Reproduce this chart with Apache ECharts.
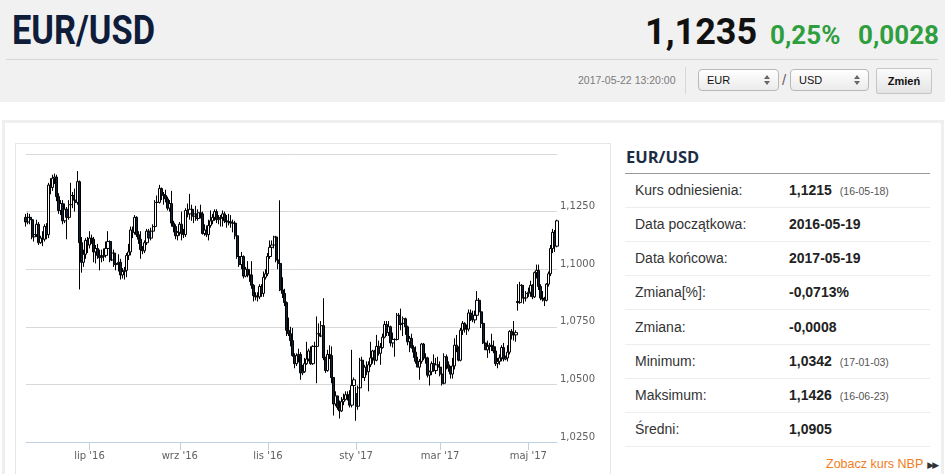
<!DOCTYPE html>
<html>
<head>
<meta charset="utf-8">
<title>EUR/USD</title>
<script src="https://cdn.jsdelivr.net/npm/echarts@6/dist/echarts.min.js"></script>
<style>
    body { margin: 0; width: 945px; height: 474px; overflow: hidden; background: #fff; position: relative; font-family: "Liberation Sans", Arial, sans-serif; }
    .abs { position: absolute; white-space: nowrap; }
    #head { left: 0; top: 0; width: 945px; height: 102px; background: #f1f1f1; }
    #title { left: 12px; top: 8px; font: 700 40px Roboto, sans-serif; color: #0f1d3a; transform: scaleX(0.86); transform-origin: left top; line-height: 46px; }
    #price { left: 645px; top: 10px; font: 700 36px Roboto, sans-serif; color: #111; line-height: 44px; }
    .chg { top: 17px; font: 700 26px Roboto, sans-serif; color: #2f9e3e; line-height: 36px; }
    #sep { left: 6px; top: 59px; width: 932px; height: 1px; background: #d6d6d6; }
    #stamp { left: 578px; top: 74px; font-size: 10.5px; color: #7a7a7a; line-height: 12px; }
    #vsep { left: 685px; top: 67px; width: 1px; height: 27px; background: #d8d8d8; }
    .sel { top: 69px; height: 20px; border: 1px solid #b8b8b8; border-radius: 4px; background: linear-gradient(#ffffff, #ebebeb); font-size: 11px; line-height: 20px; color: #111; }
    .sel span { position: absolute; left: 8px; }
    .sel i { position: absolute; right: 8px; width: 0; height: 0; border-left: 3px solid transparent; border-right: 3px solid transparent; }
    .sel i.up { top: 5px; border-bottom: 4px solid #666; }
    .sel i.dn { top: 11px; border-top: 4px solid #666; }
    #slash { left: 782px; top: 71px; font-size: 15px; color: #666; }
    #btn { left: 876px; top: 68px; width: 54px; height: 24px; border: 1px solid #c6c6c6; border-radius: 2px; background: linear-gradient(#fbfbfb, #e4e4e4); font-size: 11px; font-weight: 700; line-height: 24px; text-align: center; color: #111; }
    #outer { left: 2px; top: 120px; width: 936px; height: 400px; border: 3px solid #efefef; }
    #chartBox { left: 15px; top: 143px; width: 594px; height: 400px; border: 1px solid #e6e6e6; }
    #chart { left: 16px; top: 144px; width: 594px; height: 330px; }
    #ptitle { left: 626px; top: 146px; font: 700 16.5px "Open Sans", sans-serif; color: #1d2c45; line-height: 22px; }
    #pline { left: 625px; top: 173px; width: 305px; height: 1px; background: #999; }
    .row { left: 625px; width: 305px; height: 33px; border-bottom: 1px solid #ededed; line-height: 33px; font-size: 14px; color: #333; }
    .row .lab { position: absolute; left: 10px; }
    .row .val { position: absolute; left: 164px; font-weight: 700; color: #222; }
    .row .val small { font-weight: 400; font-size: 10.5px; color: #555; margin-left: 8px; }
    #more { left: 826px; top: 456px; font-size: 12.5px; color: #f07c21; line-height: 16px; }
    #more b { font: 9px "DejaVu Sans", sans-serif; color: #333; margin-left: 4px; letter-spacing: -2px; }
</style>
</head>
<body>
<div id="head" class="abs"></div>
<div id="title" class="abs">EUR/USD</div>
<div id="price" class="abs">1,1235</div>
<div class="abs chg" style="left:770px">0,25%</div>
<div class="abs chg" style="left:858px">0,0028</div>
<div id="sep" class="abs"></div>
<div id="stamp" class="abs">2017-05-22 13:20:00</div>
<div id="vsep" class="abs"></div>
<div class="abs sel" style="left:698px;width:79px"><span>EUR</span><i class="up"></i><i class="dn"></i></div>
<div id="slash" class="abs">/</div>
<div class="abs sel" style="left:790px;width:77px"><span>USD</span><i class="up"></i><i class="dn"></i></div>
<div id="btn" class="abs">Zmień</div>

<div id="outer" class="abs"></div>
<div id="chartBox" class="abs"></div>
<div id="chart" class="abs"></div>

<div id="ptitle" class="abs">EUR/USD</div>
<div id="pline" class="abs"></div>
<div id="rows"></div>
<div id="more" class="abs">Zobacz kurs NBP<b>▶▶</b></div>

<script>
//dni notowań: od 2016-05-19 do 2017-05-19, bez świąt
var startDate = [2016, 4, 19];
var endDate = [2017, 4, 19];
var skipDays = ['2016-12-26', '2017-01-02'];
var monthNames = ['sty', 'lut', 'mar', 'kwi', 'maj', 'cze', 'lip', 'sie', 'wrz', 'paź', 'lis', 'gru'];
var labelMonths = [0, 2, 4, 6, 8, 10];

//notowania dzienne
var openVals = [
    1.1225,1.1205,1.1225,1.1215,1.1140,1.1150,1.1195,1.1115,1.1135,1.1130,
    1.1185,1.1150,1.1365,1.1355,1.1395,1.1400,1.1315,1.1255,1.1285,1.1210,
    1.1260,1.1225,1.1280,1.1320,1.1300,1.1290,1.1380,1.1115,1.1030,1.1065,
    1.1125,1.1105,1.1135,1.1130,1.1075,1.1090,1.1060,1.1050,1.1055,1.1060,
    1.1090,1.1120,1.1040,1.1070,1.1020,1.1025,1.1030,1.0975,1.0990,1.0995,
    1.1060,1.1075,1.1170,1.1160,1.1225,1.1150,1.1130,1.1085,1.1080,1.1115,
    1.1165,1.1135,1.1165,1.1185,1.1290,1.1290,1.1350,1.1325,1.1320,1.1305,
    1.1265,1.1285,1.1200,1.1185,1.1145,1.1160,1.1195,1.1155,1.1150,1.1255,
    1.1240,1.1260,1.1230,1.1240,1.1220,1.1245,1.1240,1.1155,1.1170,1.1150,
    1.1190,1.1210,1.1225,1.1250,1.1215,1.1220,1.1225,1.1240,1.1210,1.1205,
    1.1205,1.1200,1.1200,1.1145,1.1055,1.1020,1.1055,1.0970,1.1000,1.0975,
    1.0975,1.0930,1.0885,1.0880,1.0880,1.0925,1.0895,1.0965,1.0980,1.1055,
    1.1095,1.1105,1.1140,1.1040,1.1025,1.0910,1.0895,1.0855,1.0735,1.0720,
    1.0690,1.0625,1.0590,1.0625,1.0630,1.0550,1.0555,1.0590,1.0610,1.0645,
    1.0590,1.0665,1.0665,1.0720,1.0710,1.0755,1.0615,1.0560,1.0630,1.0625,
    1.0530,1.0415,1.0450,1.0400,1.0385,1.0425,1.0435,1.0455,1.0455,1.0410,
    1.0495,1.0460,1.0405,1.0485,1.0605,1.0530,1.0575,1.0555,1.0585,1.0615,
    1.0645,1.0605,1.0665,1.0635,1.0660,1.0705,1.0760,1.0725,1.0750,1.0680,
    1.0695,1.0695,1.0800,1.0760,1.0765,1.0785,1.0750,1.0685,1.0700,1.0660,
    1.0640,1.0600,1.0575,1.0600,1.0675,1.0615,1.0615,1.0540,1.0555,1.0590,
    1.0560,1.0585,1.0575,1.0545,1.0505,1.0620,1.0585,1.0570,1.0545,1.0580,
    1.0670,1.0655,1.0605,1.0735,1.0765,1.0740,1.0740,1.0810,1.0800,1.0780,
    1.0800,1.0865,1.0815,1.0765,1.0680,1.0650,1.0665,1.0670,1.0665,1.0645,
    1.0590,1.0600,1.0615,1.0660,1.0610,1.0615,1.0640,1.0730,1.0715,1.0715,
    1.0860,1.0855,1.0930,1.0875,1.0875,1.0895,1.0900,1.0930,1.0880,1.0985,
    1.0995,1.0925,1.0875,1.0870,1.0865,1.0935,1.0980,1.1090,1.1160,1.1100
];
var closeVals = [
    1.1205,1.1225,1.1215,1.1140,1.1150,1.1195,1.1115,1.1135,1.1130,1.1185,
    1.1150,1.1365,1.1355,1.1395,1.1400,1.1315,1.1255,1.1285,1.1210,1.1260,
    1.1225,1.1280,1.1320,1.1300,1.1290,1.1380,1.1115,1.1030,1.1065,1.1125,
    1.1105,1.1135,1.1130,1.1075,1.1090,1.1060,1.1050,1.1055,1.1060,1.1090,
    1.1120,1.1040,1.1070,1.1020,1.1025,1.1030,1.0975,1.0990,1.0995,1.1060,
    1.1075,1.1170,1.1160,1.1225,1.1150,1.1130,1.1085,1.1080,1.1115,1.1165,
    1.1135,1.1165,1.1185,1.1290,1.1290,1.1350,1.1325,1.1320,1.1305,1.1265,
    1.1285,1.1200,1.1185,1.1145,1.1160,1.1195,1.1155,1.1150,1.1255,1.1240,
    1.1260,1.1230,1.1240,1.1220,1.1245,1.1240,1.1155,1.1170,1.1150,1.1190,
    1.1210,1.1225,1.1250,1.1215,1.1220,1.1225,1.1240,1.1210,1.1205,1.1205,
    1.1200,1.1200,1.1145,1.1055,1.1020,1.1055,1.0970,1.1000,1.0975,1.0975,
    1.0930,1.0885,1.0880,1.0880,1.0925,1.0895,1.0965,1.0980,1.1055,1.1095,
    1.1105,1.1140,1.1040,1.1025,1.0910,1.0895,1.0855,1.0735,1.0720,1.0690,
    1.0625,1.0590,1.0625,1.0630,1.0550,1.0555,1.0590,1.0610,1.0645,1.0590,
    1.0665,1.0665,1.0720,1.0710,1.0755,1.0615,1.0560,1.0630,1.0625,1.0530,
    1.0415,1.0450,1.0400,1.0385,1.0425,1.0435,1.0455,1.0455,1.0410,1.0495,
    1.0520,1.0405,1.0485,1.0605,1.0530,1.0575,1.0555,1.0585,1.0615,1.0645,
    1.0605,1.0665,1.0635,1.0660,1.0705,1.0760,1.0725,1.0750,1.0680,1.0695,
    1.0695,1.0800,1.0760,1.0765,1.0785,1.0750,1.0685,1.0700,1.0660,1.0640,
    1.0600,1.0575,1.0600,1.0675,1.0615,1.0615,1.0540,1.0555,1.0590,1.0560,
    1.0585,1.0575,1.0545,1.0505,1.0620,1.0585,1.0570,1.0545,1.0580,1.0670,
    1.0655,1.0605,1.0735,1.0765,1.0740,1.0740,1.0810,1.0800,1.0780,1.0800,
    1.0865,1.0815,1.0765,1.0680,1.0650,1.0665,1.0670,1.0665,1.0645,1.0590,
    1.0600,1.0615,1.0660,1.0610,1.0615,1.0640,1.0730,1.0715,1.0715,1.0725,
    1.0855,1.0930,1.0875,1.0875,1.0895,1.0900,1.0930,1.0880,1.0985,1.0995,
    1.0925,1.0875,1.0870,1.0865,1.0935,1.0980,1.1090,1.1160,1.1100,1.1210
];
var lowVals = [
    1.1185,1.1195,1.1195,1.1130,1.1120,1.1140,1.1105,1.1110,1.1100,1.1120,
    1.1130,1.1135,1.1325,1.1340,1.1370,1.1295,1.1240,1.1235,1.1195,1.1200,
    1.1130,1.1215,1.1275,1.1265,1.1250,1.1280,1.0912,1.0985,1.1010,1.1045,
    1.1070,1.1090,1.1110,1.1030,1.1025,1.1045,1.0995,1.1030,1.1035,1.1050,
    1.1075,1.1030,1.1035,1.1010,1.0995,1.0990,1.0955,1.0960,1.0955,1.0965,
    1.1040,1.1060,1.1135,1.1150,1.1140,1.1110,1.1045,1.1065,1.1070,1.1105,
    1.1120,1.1125,1.1150,1.1175,1.1255,1.1285,1.1300,1.1280,1.1290,1.1255,
    1.1250,1.1185,1.1160,1.1130,1.1125,1.1145,1.1125,1.1135,1.1140,1.1225,
    1.1215,1.1210,1.1200,1.1210,1.1210,1.1220,1.1150,1.1145,1.1140,1.1125,
    1.1180,1.1195,1.1210,1.1200,1.1195,1.1185,1.1185,1.1200,1.1180,1.1190,
    1.1180,1.1160,1.1130,1.1045,1.1010,1.1000,1.0960,1.0965,1.0965,1.0945,
    1.0915,1.0860,1.0865,1.0860,1.0870,1.0880,1.0880,1.0955,1.0970,1.1045,
    1.1070,1.1090,1.1030,1.1000,1.0905,1.0875,1.0840,1.0710,1.0710,1.0665,
    1.0620,1.0570,1.0580,1.0595,1.0520,1.0540,1.0550,1.0585,1.0600,1.0585,
    1.0585,1.0620,1.0505,1.0680,1.0705,1.0605,1.0550,1.0555,1.0610,1.0505,
    1.0365,1.0405,1.0390,1.0352,1.0380,1.0410,1.0430,1.0430,1.0400,1.0400,
    1.0450,1.0342,1.0390,1.0475,1.0520,1.0515,1.0540,1.0470,1.0575,1.0590,
    1.0585,1.0600,1.0625,1.0585,1.0655,1.0700,1.0710,1.0710,1.0665,1.0660,
    1.0620,1.0690,1.0715,1.0735,1.0710,1.0715,1.0670,1.0640,1.0655,1.0615,
    1.0590,1.0575,1.0520,1.0590,1.0605,1.0590,1.0530,1.0495,1.0540,1.0555,
    1.0545,1.0565,1.0535,1.0495,1.0500,1.0565,1.0555,1.0525,1.0525,1.0565,
    1.0640,1.0600,1.0600,1.0715,1.0725,1.0715,1.0730,1.0775,1.0770,1.0765,
    1.0790,1.0810,1.0745,1.0675,1.0650,1.0615,1.0635,1.0645,1.0635,1.0580,
    1.0570,1.0585,1.0600,1.0600,1.0605,1.0600,1.0630,1.0695,1.0690,1.0685,
    1.0820,1.0850,1.0860,1.0850,1.0860,1.0880,1.0880,1.0870,1.0875,1.0960,
    1.0910,1.0865,1.0860,1.0840,1.0860,1.0925,1.0970,1.1070,1.1075,1.1095
];
var highVals = [
    1.1240,1.1245,1.1240,1.1225,1.1170,1.1215,1.1205,1.1145,1.1165,1.1195,
    1.1200,1.1375,1.1395,1.1410,1.1415,1.1410,1.1330,1.1300,1.1300,1.1285,
    1.1270,1.1300,1.1375,1.1335,1.1350,1.1426,1.1385,1.1140,1.1085,1.1135,
    1.1140,1.1165,1.1150,1.1140,1.1105,1.1110,1.1085,1.1085,1.1090,1.1120,
    1.1165,1.1125,1.1090,1.1085,1.1040,1.1065,1.1045,1.1005,1.1010,1.1070,
    1.1110,1.1185,1.1185,1.1235,1.1230,1.1165,1.1165,1.1100,1.1125,1.1175,
    1.1175,1.1180,1.1195,1.1300,1.1320,1.1366,1.1355,1.1335,1.1345,1.1315,
    1.1300,1.1340,1.1210,1.1195,1.1165,1.1205,1.1250,1.1175,1.1265,1.1285,
    1.1327,1.1280,1.1250,1.1275,1.1260,1.1280,1.1250,1.1195,1.1190,1.1215,
    1.1255,1.1240,1.1260,1.1260,1.1235,1.1235,1.1255,1.1250,1.1235,1.1240,
    1.1235,1.1215,1.1210,1.1160,1.1065,1.1075,1.1060,1.1010,1.1035,1.1000,
    1.1035,1.0935,1.0900,1.0900,1.0935,1.0935,1.0990,1.1000,1.1070,1.1125,
    1.1125,1.1145,1.1145,1.1075,1.1299,1.0965,1.0915,1.0860,1.0790,1.0750,
    1.0745,1.0635,1.0635,1.0655,1.0640,1.0585,1.0615,1.0685,1.0655,1.0665,
    1.0670,1.0685,1.0795,1.0765,1.0775,1.0874,1.0620,1.0650,1.0670,1.0665,
    1.0530,1.0470,1.0450,1.0430,1.0445,1.0460,1.0470,1.0470,1.0475,1.0650,
    1.0530,1.0490,1.0495,1.0615,1.0620,1.0585,1.0600,1.0600,1.0685,1.0650,
    1.0650,1.0715,1.0690,1.0680,1.0720,1.0775,1.0775,1.0775,1.0755,1.0725,
    1.0700,1.0810,1.0810,1.0829,1.0795,1.0790,1.0755,1.0710,1.0720,1.0670,
    1.0665,1.0620,1.0610,1.0680,1.0680,1.0635,1.0620,1.0560,1.0600,1.0630,
    1.0615,1.0620,1.0600,1.0565,1.0635,1.0630,1.0600,1.0580,1.0615,1.0700,
    1.0715,1.0665,1.0745,1.0775,1.0770,1.0760,1.0825,1.0825,1.0820,1.0820,
    1.0905,1.0875,1.0820,1.0770,1.0700,1.0690,1.0680,1.0720,1.0690,1.0665,
    1.0615,1.0630,1.0670,1.0680,1.0625,1.0670,1.0735,1.0740,1.0775,1.0735,
    1.0935,1.0945,1.0935,1.0930,1.0905,1.0920,1.0950,1.0935,1.0990,1.1020,
    1.1020,1.0935,1.0905,1.0880,1.0940,1.0990,1.1105,1.1175,1.1170,1.1215
];

//oś Y
var yMin = 1.025, yMax = 1.15, yStep = 0.025;

//tabela po prawej
var statLabels = ['Kurs odniesienia:', 'Data początkowa:', 'Data końcowa:', 'Zmiana[%]:', 'Zmiana:', 'Minimum:', 'Maksimum:', 'Średni:'];
var statValues = ['1,1215', '2016-05-19', '2017-05-19', '-0,0713%', '-0,0008', '1,0342', '1,1426', '1,0905'];
var statNotes = ['(16-05-18)', '', '', '', '', '(17-01-03)', '(16-06-23)', ''];

function pad(n) { return n < 10 ? '0' + n : '' + n; }

function tradingDays() {
    var out = [];
    var t = Date.UTC(startDate[0], startDate[1], startDate[2]);
    var end = Date.UTC(endDate[0], endDate[1], endDate[2]);
    while (t <= end) {
        var d = new Date(t);
        var wd = d.getUTCDay();
        var s = d.getUTCFullYear() + '-' + pad(d.getUTCMonth() + 1) + '-' + pad(d.getUTCDate());
        if (wd != 0 && wd != 6 && skipDays.indexOf(s) < 0) {
            out.push(s);
        }
        t += 86400000;
    }
    return out;
}

var dates = tradingDays();

//pierwszy dzień notowań co drugiego miesiąca
function isMonthStart(i) {
    if (i == 0) return false;
    var m = parseInt(dates[i].substr(5, 2), 10) - 1;
    var pm = parseInt(dates[i - 1].substr(5, 2), 10) - 1;
    return m != pm && labelMonths.indexOf(m) >= 0;
}

var rowsDiv = document.getElementById('rows');
for (var r = 0; r < statLabels.length; r++) {
    var div = document.createElement('div');
    div.className = 'abs row';
    div.style.top = (174 + r * 34.15) + 'px';
    div.innerHTML = '<span class="lab">' + statLabels[r] + '</span><span class="val">' + statValues[r] +
        (statNotes[r] ? '<small>' + statNotes[r] + '</small>' : '') + '</span>';
    rowsDiv.appendChild(div);
}

var candleData = [];
for (var i = 0; i < dates.length; i++) {
    candleData.push([openVals[i], closeVals[i], lowVals[i], highVals[i]]);
}

var myChart = echarts.init(document.getElementById('chart'));
var option = {
    animation: false,
    grid: {
        left: 10,
        right: 53,
        top: 10,
        bottom: 32
    },
    xAxis: {
        type: 'category',
        data: dates,
        boundaryGap: false,
        axisLine: { lineStyle: { color: '#c0d0e0', width: 1 } },
        axisTick: {
            show: true,
            length: 8,
            interval: function (index) { return isMonthStart(index); },
            lineStyle: { color: '#c0d0e0' }
        },
        axisLabel: {
            interval: function (index) { return isMonthStart(index); },
            formatter: function (value) {
                var m = parseInt(value.substr(5, 2), 10) - 1;
                return monthNames[m] + " '" + value.substr(2, 2);
            },
            color: '#606060',
            fontFamily: 'DejaVu Sans',
            fontSize: 10,
            margin: 9
        },
        splitLine: { show: false }
    },
    yAxis: {
        type: 'value',
        position: 'right',
        min: yMin,
        max: yMax,
        interval: yStep,
        axisLine: { show: false },
        axisTick: { show: false },
        axisLabel: {
            showMaxLabel: false,
            formatter: function (v) { return v.toFixed(4).replace('.', ','); },
            color: '#606060',
            fontFamily: 'DejaVu Sans',
            fontSize: 10,
            margin: 3,
            verticalAlign: 'bottom'
        },
        splitLine: { lineStyle: { color: '#d8d8d8', width: 1 } }
    },
    series: [{
        name: 'EUR/USD',
        type: 'candlestick',
        data: candleData,
        barWidth: 2.6,
        itemStyle: {
            color: '#ffffff',
            color0: '#0d233a',
            borderColor: '#000000',
            borderColor0: '#000000',
            borderWidth: 1
        }
    }]
};
myChart.setOption(option);
</script>
</body>
</html>
